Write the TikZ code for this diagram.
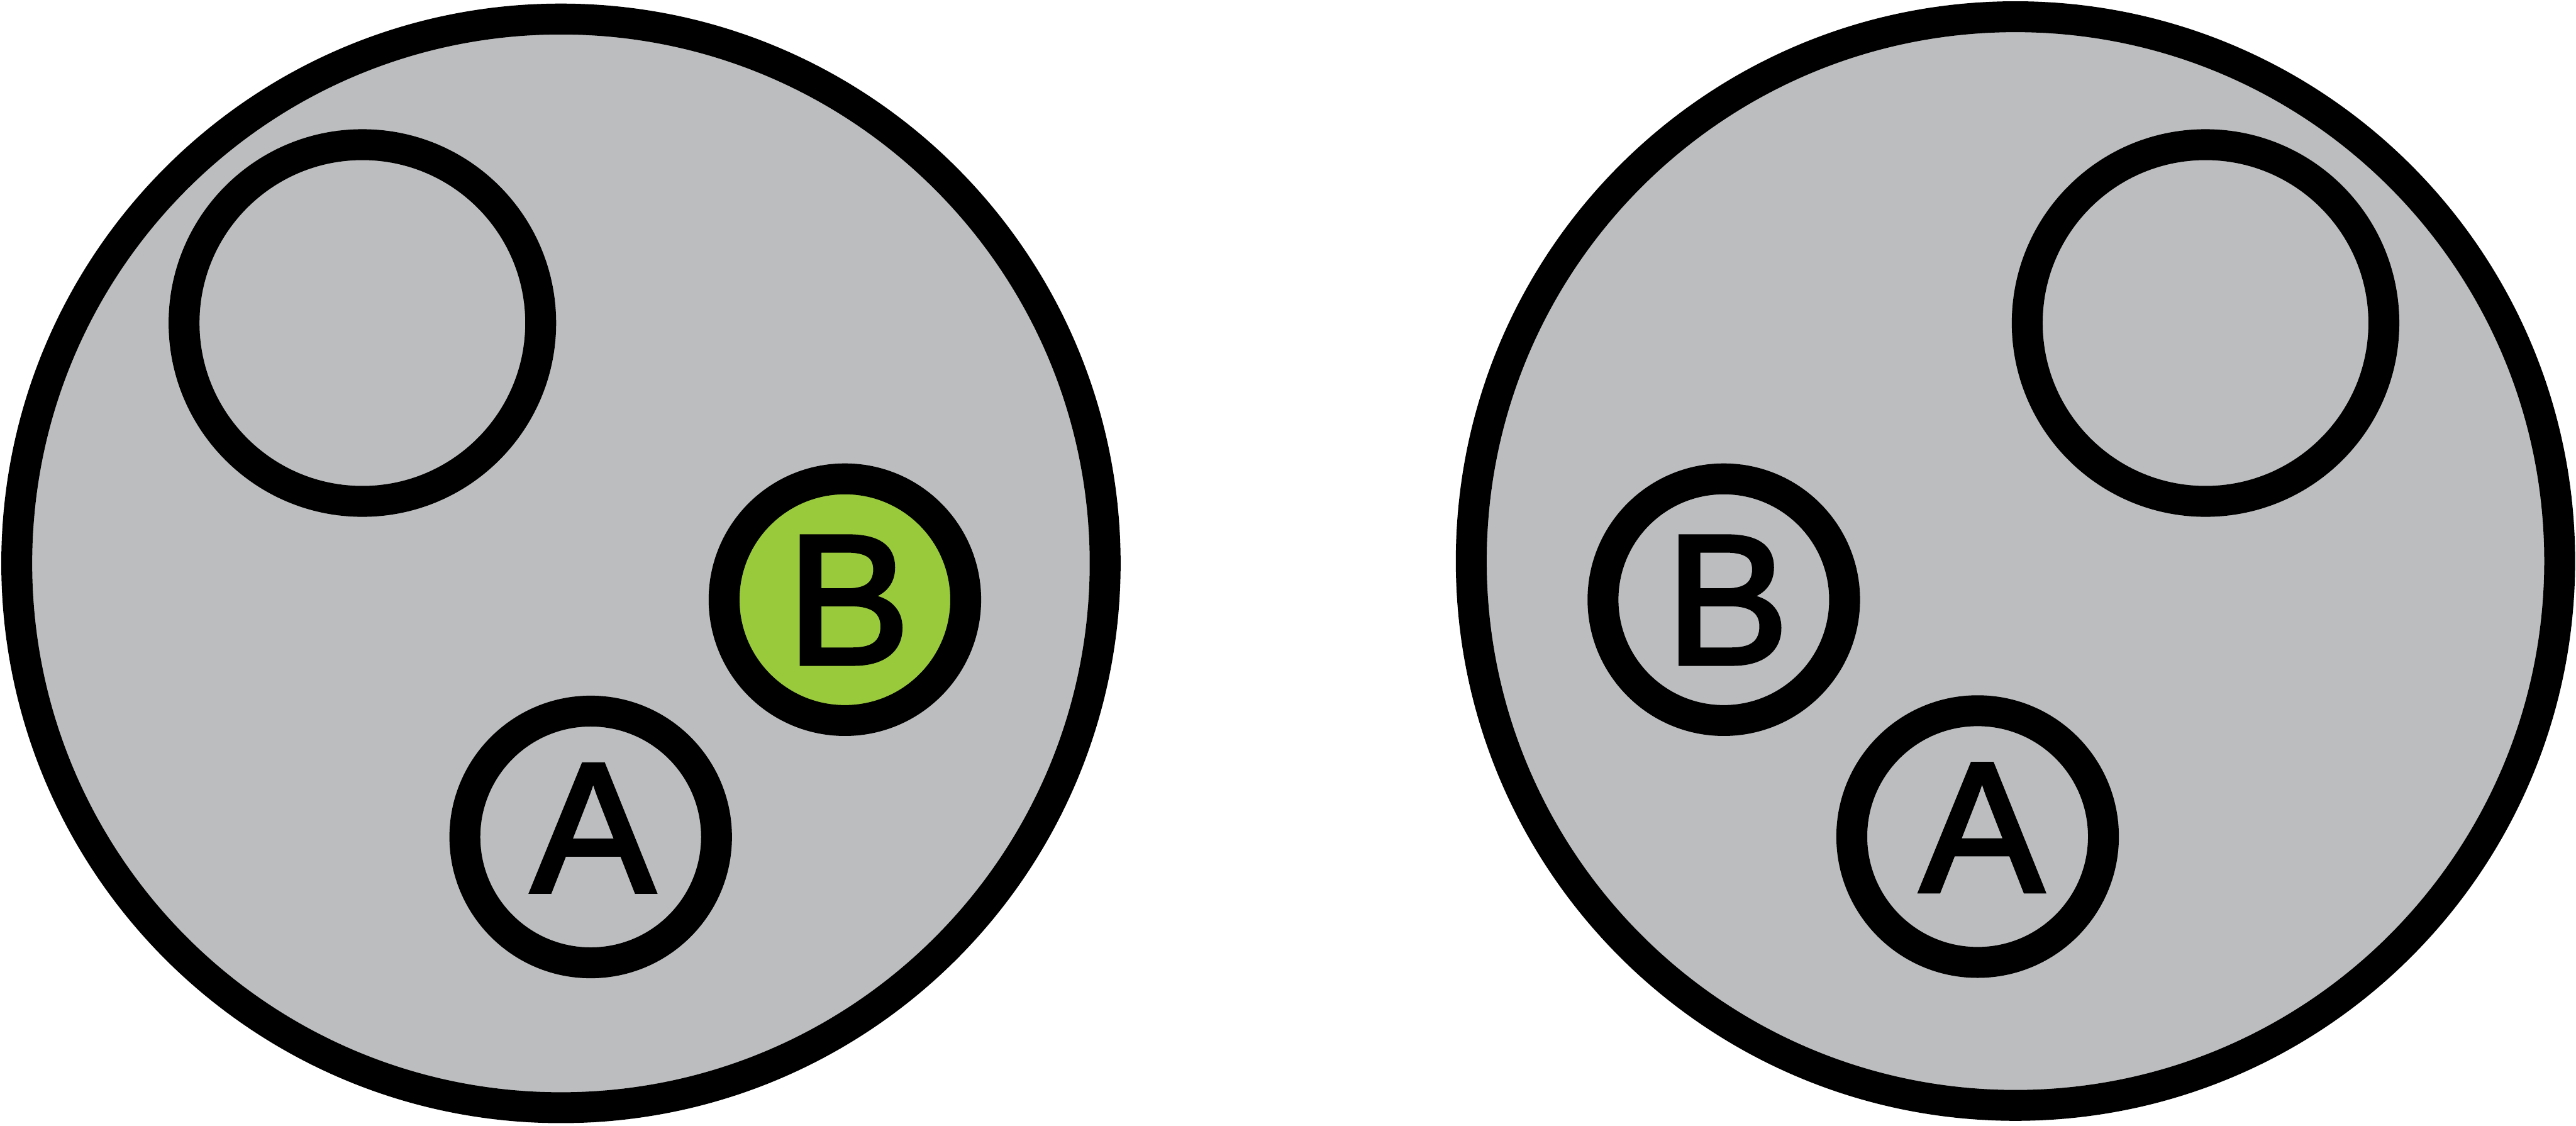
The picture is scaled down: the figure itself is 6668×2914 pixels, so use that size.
\documentclass[tikz,border=0pt]{standalone}
\usepackage{fontspec}
\setmainfont{Liberation Sans}
\newfontfamily\lblfont{Liberation Sans}[FakeBold=2.5]
\definecolor{cellgray}{RGB}{188,189,191}
\definecolor{cellgreen}{RGB}{153,202,60}
\begin{document}
\begin{tikzpicture}[x=0.0025cm,y=-0.0025cm,
  ring/.style={circle,draw=black,line width=0.2cm,inner sep=0pt,outer sep=0pt,fill=cellgray},
  bigcell/.style={ring,minimum size=7.05cm},
  topring/.style={ring,minimum size=2.31cm},
  bring/.style={ring,minimum size=1.565cm},
  aring/.style={ring,minimum size=1.63cm},
  letter/.style={inner sep=0pt,outer sep=0pt,font=\lblfont\fontsize{34}{40}\selectfont}]
\useasboundingbox (0,0) rectangle (6668,2914);
% left cell
\node[bigcell] (Lcell) at (1452,1458) {};
\node[topring] (Ltop) at (938,836) {};
\node[bring,fill=cellgreen] (LB) at (2187,1552) {};
\node[aring] (LA) at (1529,2166) {};
\node[letter] (LBt) at (2196,1553) {B};
\node[letter] (LAt) at (1535,2143) {A};
% right cell
\node[bigcell] (Rcell) at (5217,1452) {};
\node[topring] (Rtop) at (5709,836) {};
\node[bring] (RB) at (4462,1552) {};
\node[aring] (RA) at (5119,2165) {};
\node[letter] (RBt) at (4471,1553) {B};
\node[letter] (RAt) at (5130,2142) {A};
\end{tikzpicture}
\end{document}
